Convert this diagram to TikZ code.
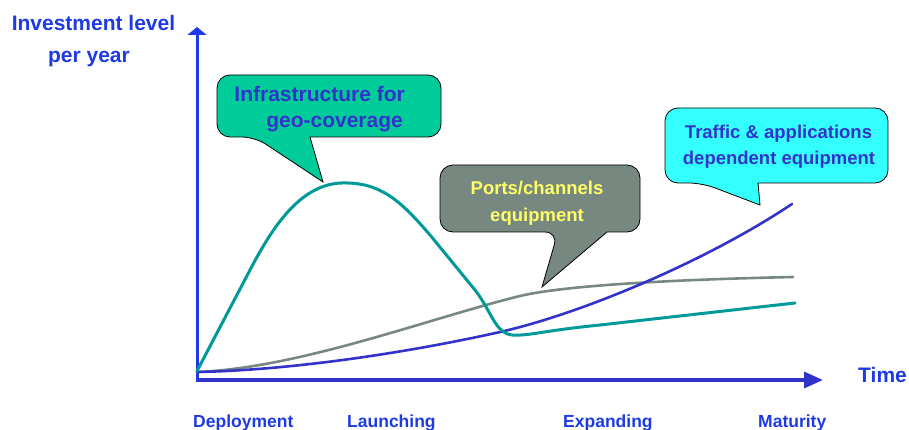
\documentclass[tikz,border=0pt]{standalone}
\usepackage{fontspec}
\setmainfont{Liberation Sans}
\usetikzlibrary{arrows.meta}
\definecolor{axisblue}{RGB}{30,58,228}
\definecolor{txtblue}{RGB}{51,51,204}
\definecolor{tealc}{RGB}{0,153,153}
\definecolor{grayc}{RGB}{119,136,128}
\definecolor{greenfill}{RGB}{0,204,153}
\definecolor{grayfill}{RGB}{119,136,128}
\definecolor{cyanfill}{RGB}{51,255,255}
\definecolor{yellowtxt}{RGB}{255,255,102}
\tikzset{
  axislbl/.style={font=\fontsize{21}{25}\selectfont\bfseries, text=axisblue, inner sep=0pt},
  phaselbl/.style={font=\fontsize{17.5}{21}\selectfont\bfseries, text=axisblue, inner sep=0pt, anchor=base west},
  calltxt/.style={font=\fontsize{18.5}{22}\selectfont\bfseries, inner sep=0pt, anchor=base},
  bubble/.style={draw=black, line width=0.8pt, rounded corners=13pt},
  curve/.style={line width=2.6pt, line join=round, line cap=round}
}
\begin{document}
\begin{tikzpicture}[x=1pt,y=-1pt]
\useasboundingbox (0,0) rectangle (909,430);
% axes
\coordinate (o) at (197,382);
\coordinate (ytop) at (197,27);
\coordinate (xo) at (199,380);
\coordinate (xend) at (823,380);
\draw[axisblue, line width=3pt, -{Triangle[length=8pt,width=19pt]}] (o) -- (ytop);
\draw[txtblue, line width=3.4pt, -{Triangle[length=19pt,width=16pt]}] (xo) -- (xend);
% axis labels
\node[axislbl, anchor=base] (ylbl1) at (93.5,31) {Investment level};
\node[axislbl, anchor=base] (ylbl2) at (89,63) {per year};
\node[axislbl, anchor=base west] (xlbl) at (858,382) {Time};
\node[phaselbl] (p1) at (193,427) {Deployment};
\node[phaselbl] (p2) at (347,427) {Launching};
\node[phaselbl] (p3) at (563,427) {Expanding};
\node[phaselbl] (p4) at (758,427) {Maturity};
% curves
\draw[curve, grayc] (197,372) .. controls (300,368) and (430,318) .. (520,296)
  .. controls (570,284) and (700,279) .. (793,277);
\draw[curve, txtblue] (197,372) .. controls (300,370) and (420,350) .. (500,332)
  .. controls (580,314) and (705,262) .. (792,204);
\draw[curve, tealc, line width=3pt] (197,371) -- (250,270)
  .. controls (272,228) and (300,184) .. (342,183)
  .. controls (380,182) and (400,200) .. (430,235)
  -- (475,290)
  .. controls (492,312) and (495,333) .. (512,335)
  .. controls (530,336) and (540,331) .. (600,325)
  -- (795,303);
% callout 1
\draw[bubble, fill=greenfill] (310,137) -- (441,137) -- (441,75) -- (217,75) -- (217,137) -- (255,137) [sharp corners] -- (323,182) -- cycle;
\node[calltxt, text=txtblue, font=\fontsize{21}{25}\selectfont\bfseries, anchor=base east] (c1a) at (405,102) {Infrastructure for};
\node[calltxt, text=txtblue, font=\fontsize{21}{25}\selectfont\bfseries, anchor=base east] (c1b) at (403,128) {geo-coverage};
% callout 2
\draw[bubble, fill=grayfill] (607,232) -- (640,232) -- (640,165) -- (440,165) -- (440,232) -- (558,232) [sharp corners] -- (542,287) -- cycle;
\node[calltxt, text=yellowtxt] (c2a) at (537,195) {Ports/channels};
\node[calltxt, text=yellowtxt] (c2b) at (537,222) {equipment};
% callout 3
\draw[bubble, fill=cyanfill] (758,183) -- (888,183) -- (888,108) -- (665,108) -- (665,183) -- (702,183) [sharp corners] -- (760,205) -- cycle;
\node[calltxt, text=txtblue] (c3a) at (778.5,139) {Traffic \& applications};
\node[calltxt, text=txtblue] (c3b) at (779,165) {dependent equipment};
\end{tikzpicture}
\end{document}
